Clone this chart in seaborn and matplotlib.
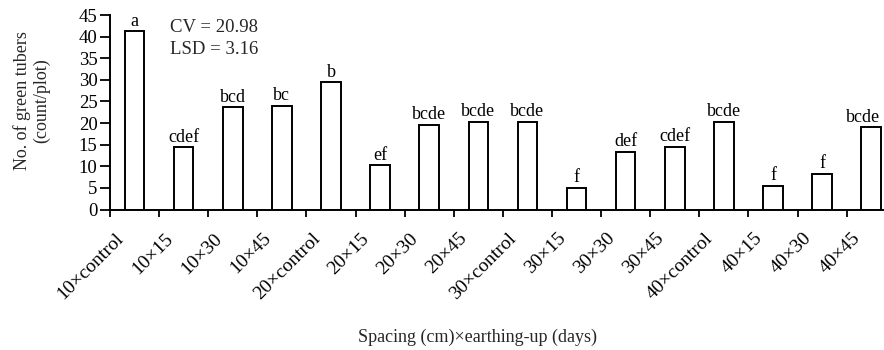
import matplotlib
matplotlib.use("Agg")
import matplotlib.pyplot as plt
from matplotlib.transforms import ScaledTranslation
import seaborn as sns
import pandas as pd

categories = ["10×control", "10×15", "10×30", "10×45", "20×control", "20×15", "20×30", "20×45",
              "30×control", "30×15", "30×30", "30×45", "40×control", "40×15", "40×30", "40×45"]
values = [41.2, 14.4, 23.6, 24.0, 29.4, 10.2, 19.5, 20.3,
          20.3, 5.0, 13.4, 14.5, 20.3, 5.4, 8.2, 19.0]
letters = ["a", "cdef", "bcd", "bc", "b", "ef", "bcde", "bcde",
           "bcde", "f", "def", "cdef", "bcde", "f", "f", "bcde"]
y_ticks = [0, 5, 10, 15, 20, 25, 30, 35, 40, 45]

sns.set_style("ticks")
plt.rcParams["font.family"] = ["Liberation Serif", "DejaVu Serif"]

df = pd.DataFrame({"cat": categories, "val": values})

fig = plt.figure(figsize=(8.84, 3.5), dpi=100)
ax = fig.add_axes([110 / 884, (350 - 209.5) / 350, 1 - 110 / 884, (209.5 - 15) / 350])

sns.barplot(data=df, x="cat", y="val", order=categories, color="white",
            edgecolor="black", linewidth=1.4, width=0.4, ax=ax, saturation=1)

n = len(categories)
for i, (v, t) in enumerate(zip(values, letters)):
    txt = ax.text(i, v + 0.4, t, ha="center", va="bottom", fontsize=13, color="black")
    if i == n - 1:
        txt.set_transform(txt.get_transform() + ScaledTranslation(-8 / 100, 0, fig.dpi_scale_trans))

ax.set_ylim(0, 45)
ax.set_xlim(-0.5, 15.26)
ax.set_yticks(y_ticks)
ax.set_yticklabels([str(t) for t in y_ticks], fontsize=13.5)
ax.set_xticks([i - 0.5 for i in range(n)])
ax.set_xticklabels(categories, rotation=45, ha="right", va="center",
                   rotation_mode="anchor", fontsize=14)
ax.tick_params(axis="x", length=5, width=1.3, pad=14, colors="black")
ax.tick_params(axis="y", length=7, width=1.3, pad=2, colors="black")
for lab in ax.get_xticklabels():
    lab.set_transform(lab.get_transform() + ScaledTranslation(11 / 100, 0, fig.dpi_scale_trans))

for s in ["top", "right"]:
    ax.spines[s].set_visible(False)
for s in ["left", "bottom"]:
    ax.spines[s].set_linewidth(1.4)
    ax.spines[s].set_color("black")

ax.set_xlabel("")
ax.set_ylabel("No. of green tubers\n(count/plot)", fontsize=13, linespacing=1.1)
ax.yaxis.set_label_coords((50 - 110) / 774, (209.5 - 101) / 194.5)

ax.text(170 / 884, 1 - 28 / 350, "CV = 20.98", transform=fig.transFigure,
        ha="left", va="center", fontsize=13.5)
ax.text(170 / 884, 1 - 50 / 350, "LSD = 3.16", transform=fig.transFigure,
        ha="left", va="center", fontsize=13.5)

fig.text(478 / 884, 1 - 337 / 350, "Spacing (cm)×earthing-up (days)",
         ha="center", va="center", fontsize=13)

fig.savefig("out.png", dpi=100, facecolor="white")
